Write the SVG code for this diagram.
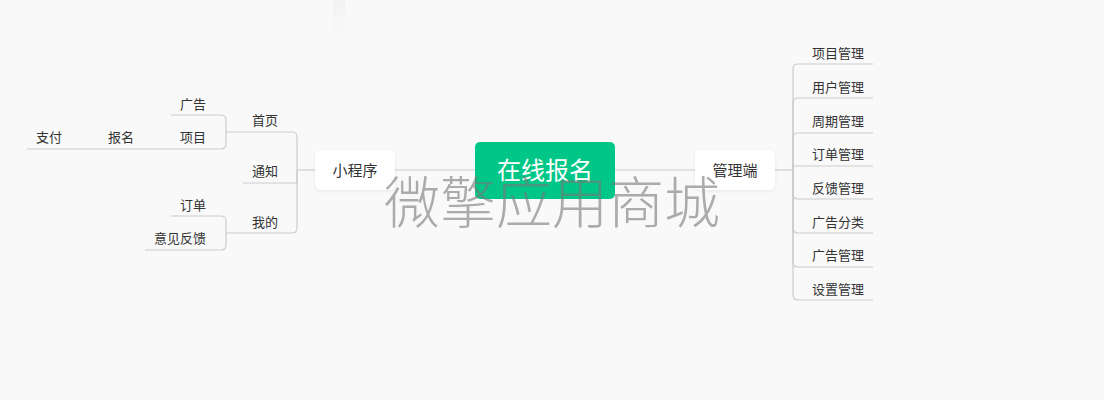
<svg xmlns="http://www.w3.org/2000/svg" width="1104" height="400" viewBox="0 0 1104 400">
<defs>
<filter id="sh" x="-20%" y="-30%" width="140%" height="160%">
<feDropShadow dx="0" dy="1" stdDeviation="1.5" flood-color="#000" flood-opacity="0.08"/>
</filter>
<linearGradient id="ghost" x1="0" y1="0" x2="0" y2="1">
<stop offset="0" stop-color="#efefef" stop-opacity="0.7"/>
<stop offset="1" stop-color="#f4f4f4" stop-opacity="0"/>
</linearGradient>
</defs>
<style>
text{font-family:"Noto Sans CJK SC","Noto Sans",sans-serif;}
.t{font-size:13px;fill:#333;text-anchor:middle;}
.m{font-size:15px;fill:#333;text-anchor:middle;}
.c{font-size:24px;fill:#fff;text-anchor:middle;}
.ln{fill:none;stroke:#cccccc;stroke-width:1.2;}
.box{fill:#fff;}
.wm{font-size:56px;font-weight:300;fill:#777;fill-opacity:0.6;}
</style>
<rect width="1104" height="400" fill="#f9f9f9"/>
<rect x="333" y="0" width="12" height="42" fill="url(#ghost)"/>

<g id="connectors">
<path class="ln" d="M395 170H475M615 170H695"/>
<path class="ln" d="M315 170H297"/>
<path class="ln" d="M297 170V137Q297 132 292 132H226"/>
<path class="ln" d="M297 170V183H243"/>
<path class="ln" d="M297 170V228Q297 233 292 233H226"/>
<path class="ln" d="M226 132V120Q226 115 221 115H171"/>
<path class="ln" d="M226 132V144Q226 149 221 149H27"/>
<path class="ln" d="M226 233V221Q226 216 221 216H171"/>
<path class="ln" d="M226 233V245Q226 250 221 250H145"/>
<path class="ln" d="M775 170H793"/>
<path class="ln" d="M793 170V69Q793 64 798 64H873"/>
<path class="ln" d="M793 170V103Q793 98 798 98H873"/>
<path class="ln" d="M793 170V138Q793 133 798 133H873"/>
<path class="ln" d="M793 170V166H873"/>
<path class="ln" d="M793 170V194Q793 199 798 199H873"/>
<path class="ln" d="M793 170V228Q793 233 798 233H873"/>
<path class="ln" d="M793 170V262Q793 267 798 267H873"/>
<path class="ln" d="M793 170V295Q793 300 798 300H873"/>
</g>

<g id="root"><rect x="475" y="142" width="140" height="57" rx="5" fill="#00c787"/><text class="c" x="545" y="179">在线报名</text></g>
<g id="miniapp"><rect class="box" x="315" y="150" width="80" height="40" rx="6" filter="url(#sh)"/><text class="m" x="355" y="176">小程序</text></g>
<g id="admin"><rect class="box" x="695" y="150" width="80" height="40" rx="6" filter="url(#sh)"/><text class="m" x="735" y="176">管理端</text></g>

<g id="n-home"><text class="t" x="265" y="125">首页</text></g>
<g id="n-notice"><text class="t" x="265" y="176">通知</text></g>
<g id="n-mine"><text class="t" x="265" y="227">我的</text></g>
<g id="n-ad"><text class="t" x="193" y="109">广告</text></g>
<g id="n-project"><text class="t" x="193" y="142">项目</text></g>
<g id="n-signup"><text class="t" x="121" y="142">报名</text></g>
<g id="n-pay"><text class="t" x="49" y="142">支付</text></g>
<g id="n-order"><text class="t" x="193" y="210">订单</text></g>
<g id="n-feedback"><text class="t" x="180" y="243">意见反馈</text></g>

<g id="a1"><text class="t" x="838" y="58">项目管理</text></g>
<g id="a2"><text class="t" x="838" y="92">用户管理</text></g>
<g id="a3"><text class="t" x="838" y="126">周期管理</text></g>
<g id="a4"><text class="t" x="838" y="159">订单管理</text></g>
<g id="a5"><text class="t" x="838" y="193">反馈管理</text></g>
<g id="a6"><text class="t" x="838" y="227">广告分类</text></g>
<g id="a7"><text class="t" x="838" y="260">广告管理</text></g>
<g id="a8"><text class="t" x="838" y="294">设置管理</text></g>

<text class="wm" x="384" y="223">微擎应用商城</text>
</svg>
